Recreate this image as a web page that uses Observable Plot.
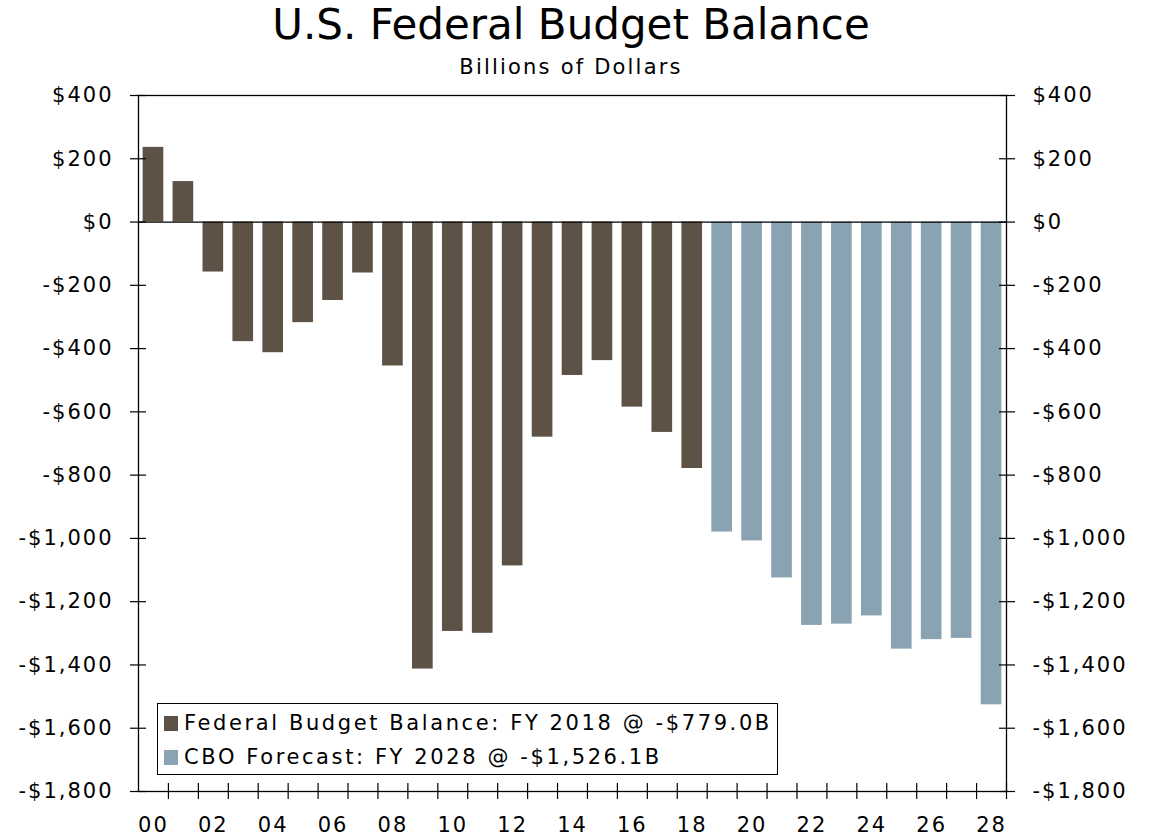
<!DOCTYPE html>
<html>
<head>
<meta charset="utf-8">
<script src="https://cdn.jsdelivr.net/npm/d3@7"></script>
<script src="https://cdn.jsdelivr.net/npm/@observablehq/plot@0.6"></script>
<style>
  html, body { margin: 0; padding: 0; background: #fff; }
  body { width: 1150px; height: 838px; position: relative; overflow: hidden; font-family: "DejaVu Sans", sans-serif; color: #000; }
  #title { position: absolute; left: 0; width: 1142px; top: 1px; text-align: center; font-size: 42px; line-height: 48px; }
  #subtitle { position: absolute; left: 0; width: 1142px; top: 54px; text-align: center; font-size: 21px; line-height: 26px; letter-spacing: 2.2px; }
  #chart { position: absolute; left: 0; top: 80px; }
  #legend { position: absolute; left: 157px; top: 703px; width: 621px; height: 72px; border: 1px solid #000; background: #fff; box-sizing: border-box; font-size: 21px; letter-spacing: 2.6px; }
  .item { position: absolute; left: 6px; height: 26px; line-height: 26px; white-space: nowrap; }
  .sw { display: inline-block; width: 14px; height: 15px; margin-right: 6px; vertical-align: -1px; }
  svg text { letter-spacing: 2px; }
</style>
</head>
<body>
<div id="title">U.S. Federal Budget Balance</div>
<div id="subtitle">Billions of Dollars</div>
<div id="chart"></div>
<div id="legend"></div>
<script>
// Data (billions of dollars), fiscal years
const actualYears = [2000,2001,2002,2003,2004,2005,2006,2007,2008,2009,2010,2011,2012,2013,2014,2015,2016,2017,2018];
const actualValues = [236,128,-158,-378,-413,-318,-248,-161,-455,-1413,-1294,-1300,-1087,-680,-485,-438,-585,-665,-779];
const forecastYears = [2019,2020,2021,2022,2023,2024,2025,2026,2027,2028];
const forecastValues = [-980,-1008,-1125,-1275,-1271,-1245,-1350,-1320,-1316,-1526];
const seriesNames = ["Federal Budget Balance: FY 2018 @ -$779.0B", "CBO Forecast: FY 2028 @ -$1,526.1B"];
const seriesColors = ["#5E5246", "#8AA3B3"];
const yTicks = [400,200,0,-200,-400,-600,-800,-1000,-1200,-1400,-1600,-1800];
const xLabelYears = [2000,2002,2004,2006,2008,2010,2012,2014,2016,2018,2020,2022,2024,2026,2028];

const rows = [
  ...actualYears.map((y, i) => ({year: y, value: actualValues[i], series: seriesNames[0]})),
  ...forecastYears.map((y, i) => ({year: y, value: forecastValues[i], series: seriesNames[1]}))
];
const allYears = [...actualYears, ...forecastYears];
const boundaries = allYears.map(y => y + 0.5);
const halfBar = 0.345;

const money = d3.format(",");
const fmtY = v => (v < 0 ? "-$" + money(-v) : "$" + money(v));
const fmtX = v => String(v % 100).padStart(2, "0");

const chart = Plot.plot({
  width: 1150,
  height: 758,
  marginLeft: 138,
  marginRight: 144,
  marginTop: 15,
  marginBottom: 47,
  style: {fontFamily: "DejaVu Sans, sans-serif", fontSize: "21px", color: "#000", background: "#fff"},
  x: {domain: [allYears[0] - 0.5, allYears[allYears.length - 1] + 0.5]},
  y: {domain: [yTicks[yTicks.length - 1], yTicks[0]]},
  color: {domain: seriesNames, range: seriesColors},
  marks: [
    Plot.rectY(rows, {x1: d => d.year - halfBar, x2: d => d.year + halfBar, y1: 0, y2: "value", fill: "series"}),
    Plot.ruleY([0], {stroke: "#000", strokeWidth: 1.2}),
    Plot.frame({stroke: "#000", strokeWidth: 1.3}),
    Plot.axisY(yTicks, {anchor: "left", tickSize: 16, dx: 8, tickPadding: 17, tickFormat: fmtY, label: null, stroke: "#000", strokeWidth: 1.2}),
    Plot.axisY(yTicks, {anchor: "right", tickSize: 16, dx: -8, tickPadding: 18, tickFormat: fmtY, label: null, stroke: "#000", strokeWidth: 1.2}),
    Plot.axisX(boundaries, {anchor: "bottom", tickSize: 16, dy: -8, text: null, label: null, stroke: "#000", strokeWidth: 1.2}),
    Plot.axisX(xLabelYears, {anchor: "bottom", tickSize: 0, tickPadding: 26, tickFormat: fmtX, label: null})
  ]
});
document.getElementById("chart").appendChild(chart);

const legend = document.getElementById("legend");
seriesNames.forEach((name, i) => {
  const item = document.createElement("div");
  item.className = "item";
  item.style.top = (i === 0 ? 6 : 40) + "px";
  const sw = document.createElement("span");
  sw.className = "sw";
  sw.style.background = seriesColors[i];
  item.appendChild(sw);
  item.appendChild(document.createTextNode(name));
  legend.appendChild(item);
});
</script>
</body>
</html>
